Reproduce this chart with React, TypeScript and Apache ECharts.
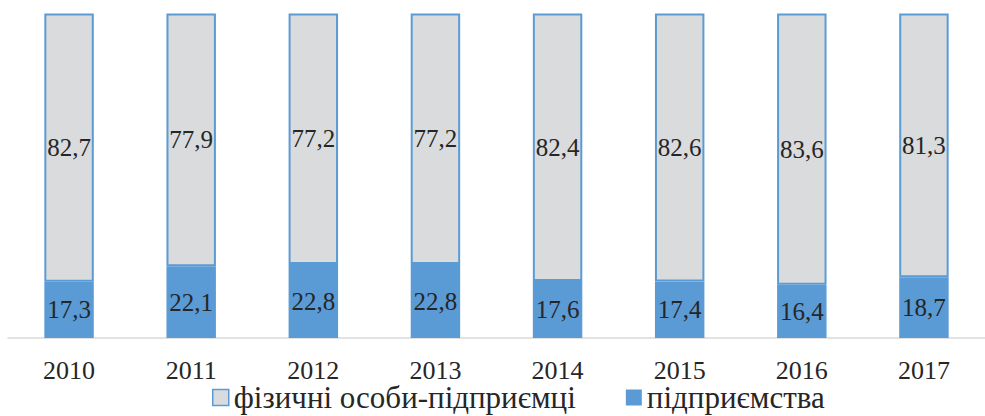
import React, { useEffect, useRef } from "react";
import * as echarts from "echarts";

const years = ["2010", "2011", "2012", "2013", "2014", "2015", "2016", "2017"];
const enterprises = [17.3, 22.1, 22.8, 22.8, 17.6, 17.4, 16.4, 18.7];
const individuals = [82.7, 77.9, 77.2, 77.2, 82.4, 82.6, 83.6, 81.3];
const nameIndividuals = "фізичні особи-підприємці";
const nameEnterprises = "підприємства";

const FONT = "'Liberation Serif', 'Times New Roman', serif";
const BLUE = "#5B9BD5";
const GRAY = "#DADBDD";
const TEXT = "#262626";

export default function App() {
  const ref = useRef<HTMLDivElement>(null);
  useEffect(() => {
    if (!ref.current) return;
    const chart = echarts.init(ref.current, undefined, { renderer: "svg" });
    const fmt = (p: any) => String(p.value).replace(".", ",");
    chart.setOption({
      animation: false,
      grid: { left: 8, top: 13.5, width: 989, height: 324.5, containLabel: false },
      xAxis: {
        type: "category",
        data: years,
        axisLine: { lineStyle: { color: "#D9D9D9", width: 1.5 } },
        axisTick: { show: false },
        axisLabel: { fontFamily: FONT, fontSize: 26, lineHeight: 24, color: TEXT, margin: 20 },
      },
      yAxis: {
        type: "value",
        min: 0,
        max: 100,
        show: false,
        splitLine: { show: false },
      },
      legend: {
        left: 212,
        bottom: 3,
        padding: 0,
        itemWidth: 16,
        itemHeight: 16,
        itemGap: 50,
        icon: "rect",
        textStyle: { fontFamily: FONT, fontSize: 31, lineHeight: 26, color: TEXT },
        data: [
          { name: nameIndividuals, itemStyle: { color: GRAY, borderColor: BLUE, borderWidth: 1.5 } },
          { name: nameEnterprises, itemStyle: { color: BLUE, borderWidth: 0 } },
        ],
      },
      series: [
        {
          name: nameEnterprises,
          type: "bar",
          stack: "total",
          barWidth: "40.5%",
          data: enterprises,
          itemStyle: { color: BLUE },
          label: { show: true, position: "inside", formatter: fmt, fontFamily: FONT, fontSize: 25, color: TEXT },
        },
        {
          name: nameIndividuals,
          type: "bar",
          stack: "total",
          barWidth: "40.5%",
          data: individuals,
          itemStyle: { color: GRAY, borderColor: BLUE, borderWidth: 2 },
          label: { show: true, position: "inside", formatter: fmt, fontFamily: FONT, fontSize: 25, color: TEXT },
        },
      ],
    });
    return () => chart.dispose();
  }, []);
  return (
    <div
      ref={ref}
      style={{ position: "absolute", left: 0, top: 0, width: 985, height: 416, background: "#fff" }}
    />
  );
}
